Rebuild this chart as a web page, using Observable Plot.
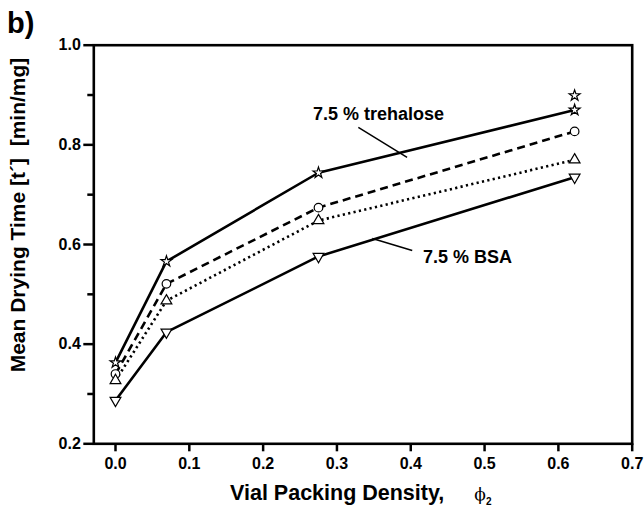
<!DOCTYPE html>
<html><head><meta charset="utf-8">
<script src="https://cdn.jsdelivr.net/npm/d3@7"></script>
<script src="https://cdn.jsdelivr.net/npm/@observablehq/plot@0.6"></script>
<style>
body{margin:0;background:#fff}
svg{display:block}
</style>
</head><body><div id="chart"></div>
<script>
// ---- data ----
const density = [0.0, 0.069, 0.275, 0.622];
const trehalose = [0.363, 0.566, 0.744, 0.870];     // stars, solid
const seriesCircle = [0.340, 0.521, 0.674, 0.827];  // circles, dashed
const seriesTriangle = [0.327, 0.487, 0.648, 0.770]; // triangles, dotted
const bsa = [0.287, 0.424, 0.576, 0.735];           // down triangles, solid
const extraStarX = [0.622];
const extraStarY = [0.899];
const xTicks = [0, 0.1, 0.2, 0.3, 0.4, 0.5, 0.6, 0.7];
const yTicks = [0.2, 0.4, 0.6, 0.8, 1.0];
const yMinorTicks = [0.3, 0.5, 0.7, 0.9];
const labelTexts = ["7.5 % trehalose", "7.5 % BSA"];

const series = [
  {y: trehalose, symbol: "star", rotate: 0, r: 3.4, dash: null},
  {y: seriesCircle, symbol: "circle", rotate: 0, r: 4.3, dash: "8,5"},
  {y: seriesTriangle, symbol: "triangle", rotate: 0, r: 4, dash: "2.2,3.3"},
  {y: bsa, symbol: "triangle", rotate: 180, r: 4, dash: null}
];
const rows = s => density.map((x, i) => ({x, y: s.y[i]}));

const marks = [];
for (const s of series) {
  marks.push(Plot.line(rows(s), {x: "x", y: "y", stroke: "#000", strokeWidth: 2.6,
    strokeDasharray: s.dash, strokeLinecap: "butt"}));
}
for (const s of series) {
  marks.push(Plot.dot(rows(s), {x: "x", y: "y", symbol: () => s.symbol, r: s.r,
    rotate: s.rotate, stroke: "#000", strokeWidth: 1.2, fill: "#fff"}));
}
marks.push(Plot.dot(extraStarX.map((x, i) => ({x, y: extraStarY[i]})), {x: "x", y: "y", symbol: () => "star", r: 3.4,
  stroke: "#000", strokeWidth: 1.2, fill: "#fff"}));

// annotations
marks.push(Plot.text([labelTexts[0]], {x: () => 0.3564, y: () => 0.862, text: d => d, fontSize: 18, fontWeight: "bold", textAnchor: "middle"}));
marks.push(Plot.text([labelTexts[1]], {x: () => 0.477, y: () => 0.575, text: d => d, fontSize: 18, fontWeight: "bold", textAnchor: "middle"}));
marks.push(Plot.link([0], {x1: () => 0.329, y1: () => 0.835, x2: () => 0.395, y2: () => 0.775, stroke: "#000", strokeWidth: 1.5}));
marks.push(Plot.link([0], {x1: () => 0.348, y1: () => 0.612, x2: () => 0.402, y2: () => 0.588, stroke: "#000", strokeWidth: 1.5}));

// axes
marks.push(Plot.axisX(xTicks, {tickSize: 8, tickPadding: 6, strokeWidth: 2.5, tickFormat: d3.format(".1f"), label: null, fontSize: 16, fontWeight: "bold"}));
marks.push(Plot.axisY(yTicks, {tickSize: 10, tickPadding: 3, strokeWidth: 2.5, tickFormat: d3.format(".1f"), label: null, fontSize: 16, fontWeight: "bold"}));
marks.push(Plot.axisY(yMinorTicks, {tickSize: 6, strokeWidth: 2.5, tickFormat: null, text: null, label: null}));
marks.push(Plot.frame({stroke: "#000", strokeWidth: 2.6}));

const chart = Plot.plot({
  width: 644, height: 511,
  marginLeft: 93.3, marginRight: 12.3, marginTop: 44.7, marginBottom: 67.7,
  x: {domain: [-0.0294, 0.7]},
  y: {domain: [0.2, 1.0]},
  style: {fontFamily: "'Liberation Sans', Arial, sans-serif", fontWeight: "bold", color: "#000", background: "#fff", overflow: "visible"},
  marks
});
document.getElementById("chart").appendChild(chart);

const svg = d3.select(chart);
const font = "'Liberation Sans', Arial, sans-serif";
svg.append("text").attr("x", 7).attr("y", 33).attr("text-anchor", "start").attr("font-family", font).attr("font-weight", "bold")
  .attr("font-size", 29).attr("fill", "#000").text("b)");
svg.append("text").attr("transform", "translate(25,215) rotate(-90)").attr("text-anchor", "middle")
  .attr("font-family", font).attr("font-weight", "bold").attr("font-size", 21).attr("fill", "#000")
  .style("white-space", "pre").text("Mean Drying Time [t\u00B4]  [min/mg]");
const xl = svg.append("text").attr("x", 230).attr("y", 500).attr("text-anchor", "start").attr("font-family", font).attr("font-weight", "bold")
  .attr("font-size", 21.5).attr("fill", "#000").style("white-space", "pre");
xl.append("tspan").text("Vial Packing Density,");
xl.append("tspan").attr("dx", 30).attr("font-weight", "normal").attr("font-family", "'DejaVu Serif', serif").attr("font-size", 17).text("\u03D5");
xl.append("tspan").attr("dy", 5).attr("font-size", 10).text("2");
</script>
</body></html>
